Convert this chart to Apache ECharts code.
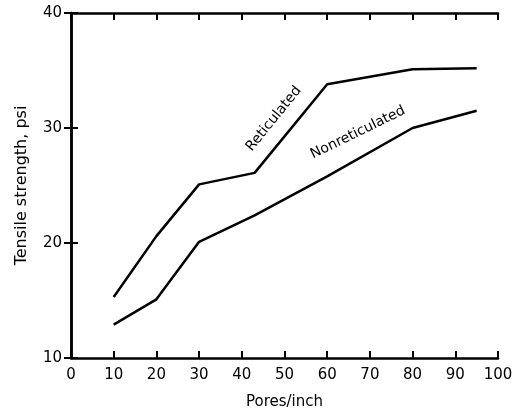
<!DOCTYPE html>
<html>
<head>
<meta charset="utf-8">
<script src="https://cdn.jsdelivr.net/npm/echarts@6/dist/echarts.min.js"></script>
<style>html,body{margin:0;padding:0;background:#fff;}#c{width:516px;height:415px;}</style>
</head>
<body>
<div id="c"></div>
<script>
var pores = [10, 20, 30, 43, 60, 80, 95];
var reticulated = [15.3, 20.6, 25.1, 26.1, 33.8, 35.1, 35.2];
var nonreticulated = [12.9, 15.1, 20.1, 22.4, 25.8, 30.0, 31.5];
var xTicks = [0, 10, 20, 30, 40, 50, 60, 70, 80, 90, 100];
var yTicks = [10, 20, 30, 40];
var curveLabels = [
  { text: 'Reticulated', at: [47.5, 30.8], angle: 51 },
  { text: 'Nonreticulated', at: [67.2, 29.6], angle: 26 }
];

var font = 'DejaVu Sans';
var chart = echarts.init(document.getElementById('c'), null, { renderer: 'canvas' });

function pairs(xs, ys) { return xs.map(function (x, i) { return [x, ys[i]]; }); }

var axisLine = { show: true, lineStyle: { color: '#000', width: 2.5 } };
var tickStyle = { show: true, inside: true, length: 7, lineStyle: { color: '#000', width: 2 } };

chart.setOption({
  backgroundColor: '#fff',
  animation: false,
  grid: { left: 71, right: 18, top: 13, bottom: 57, containLabel: false },
  xAxis: [
    {
      type: 'value', min: 0, max: 100, interval: 10, position: 'bottom',
      name: 'Pores/inch', nameLocation: 'middle', nameGap: 37,
      nameTextStyle: { fontFamily: font, fontSize: 15, color: '#000' },
      axisLine: axisLine, axisTick: tickStyle, splitLine: { show: false },
      axisLabel: { fontFamily: font, fontSize: 15, color: '#000', margin: 10,
        formatter: function (v) { return xTicks.indexOf(v) >= 0 ? String(v) : ''; } }
    },
    {
      type: 'value', min: 0, max: 100, interval: 10, position: 'top',
      axisLine: axisLine, axisTick: tickStyle, axisLabel: { show: false }, splitLine: { show: false }
    }
  ],
  yAxis: [
    {
      type: 'value', min: 10, max: 40, interval: 10, position: 'left',
      name: 'Tensile strength, psi', nameLocation: 'middle', nameGap: 41, nameRotate: 90,
      nameTextStyle: { fontFamily: font, fontSize: 16, color: '#000' },
      axisLine: axisLine, axisTick: tickStyle, splitLine: { show: false },
      axisLabel: { fontFamily: font, fontSize: 15, color: '#000', margin: 9,
        formatter: function (v) { return yTicks.indexOf(v) >= 0 ? String(v) : ''; } }
    },
    {
      type: 'value', min: 10, max: 40, interval: 10, position: 'right',
      axisLine: axisLine, axisTick: tickStyle, axisLabel: { show: false }, splitLine: { show: false }
    }
  ],
  series: [
    { name: 'Reticulated', type: 'line', data: pairs(pores, reticulated), showSymbol: false,
      lineStyle: { color: '#000', width: 2.5 }, z: 3 },
    { name: 'Nonreticulated', type: 'line', data: pairs(pores, nonreticulated), showSymbol: false,
      lineStyle: { color: '#000', width: 2.5 }, z: 3 }
  ]
});

var graphics = curveLabels.map(function (l) {
  var p = chart.convertToPixel({ gridIndex: 0 }, l.at);
  return {
    type: 'text', x: p[0], y: p[1], rotation: l.angle * Math.PI / 180,
    style: { text: l.text, fontFamily: font, fontSize: 14, fill: '#000',
      textAlign: 'center', textVerticalAlign: 'middle' }
  };
});
chart.setOption({ graphic: graphics });
</script>
</body>
</html>
